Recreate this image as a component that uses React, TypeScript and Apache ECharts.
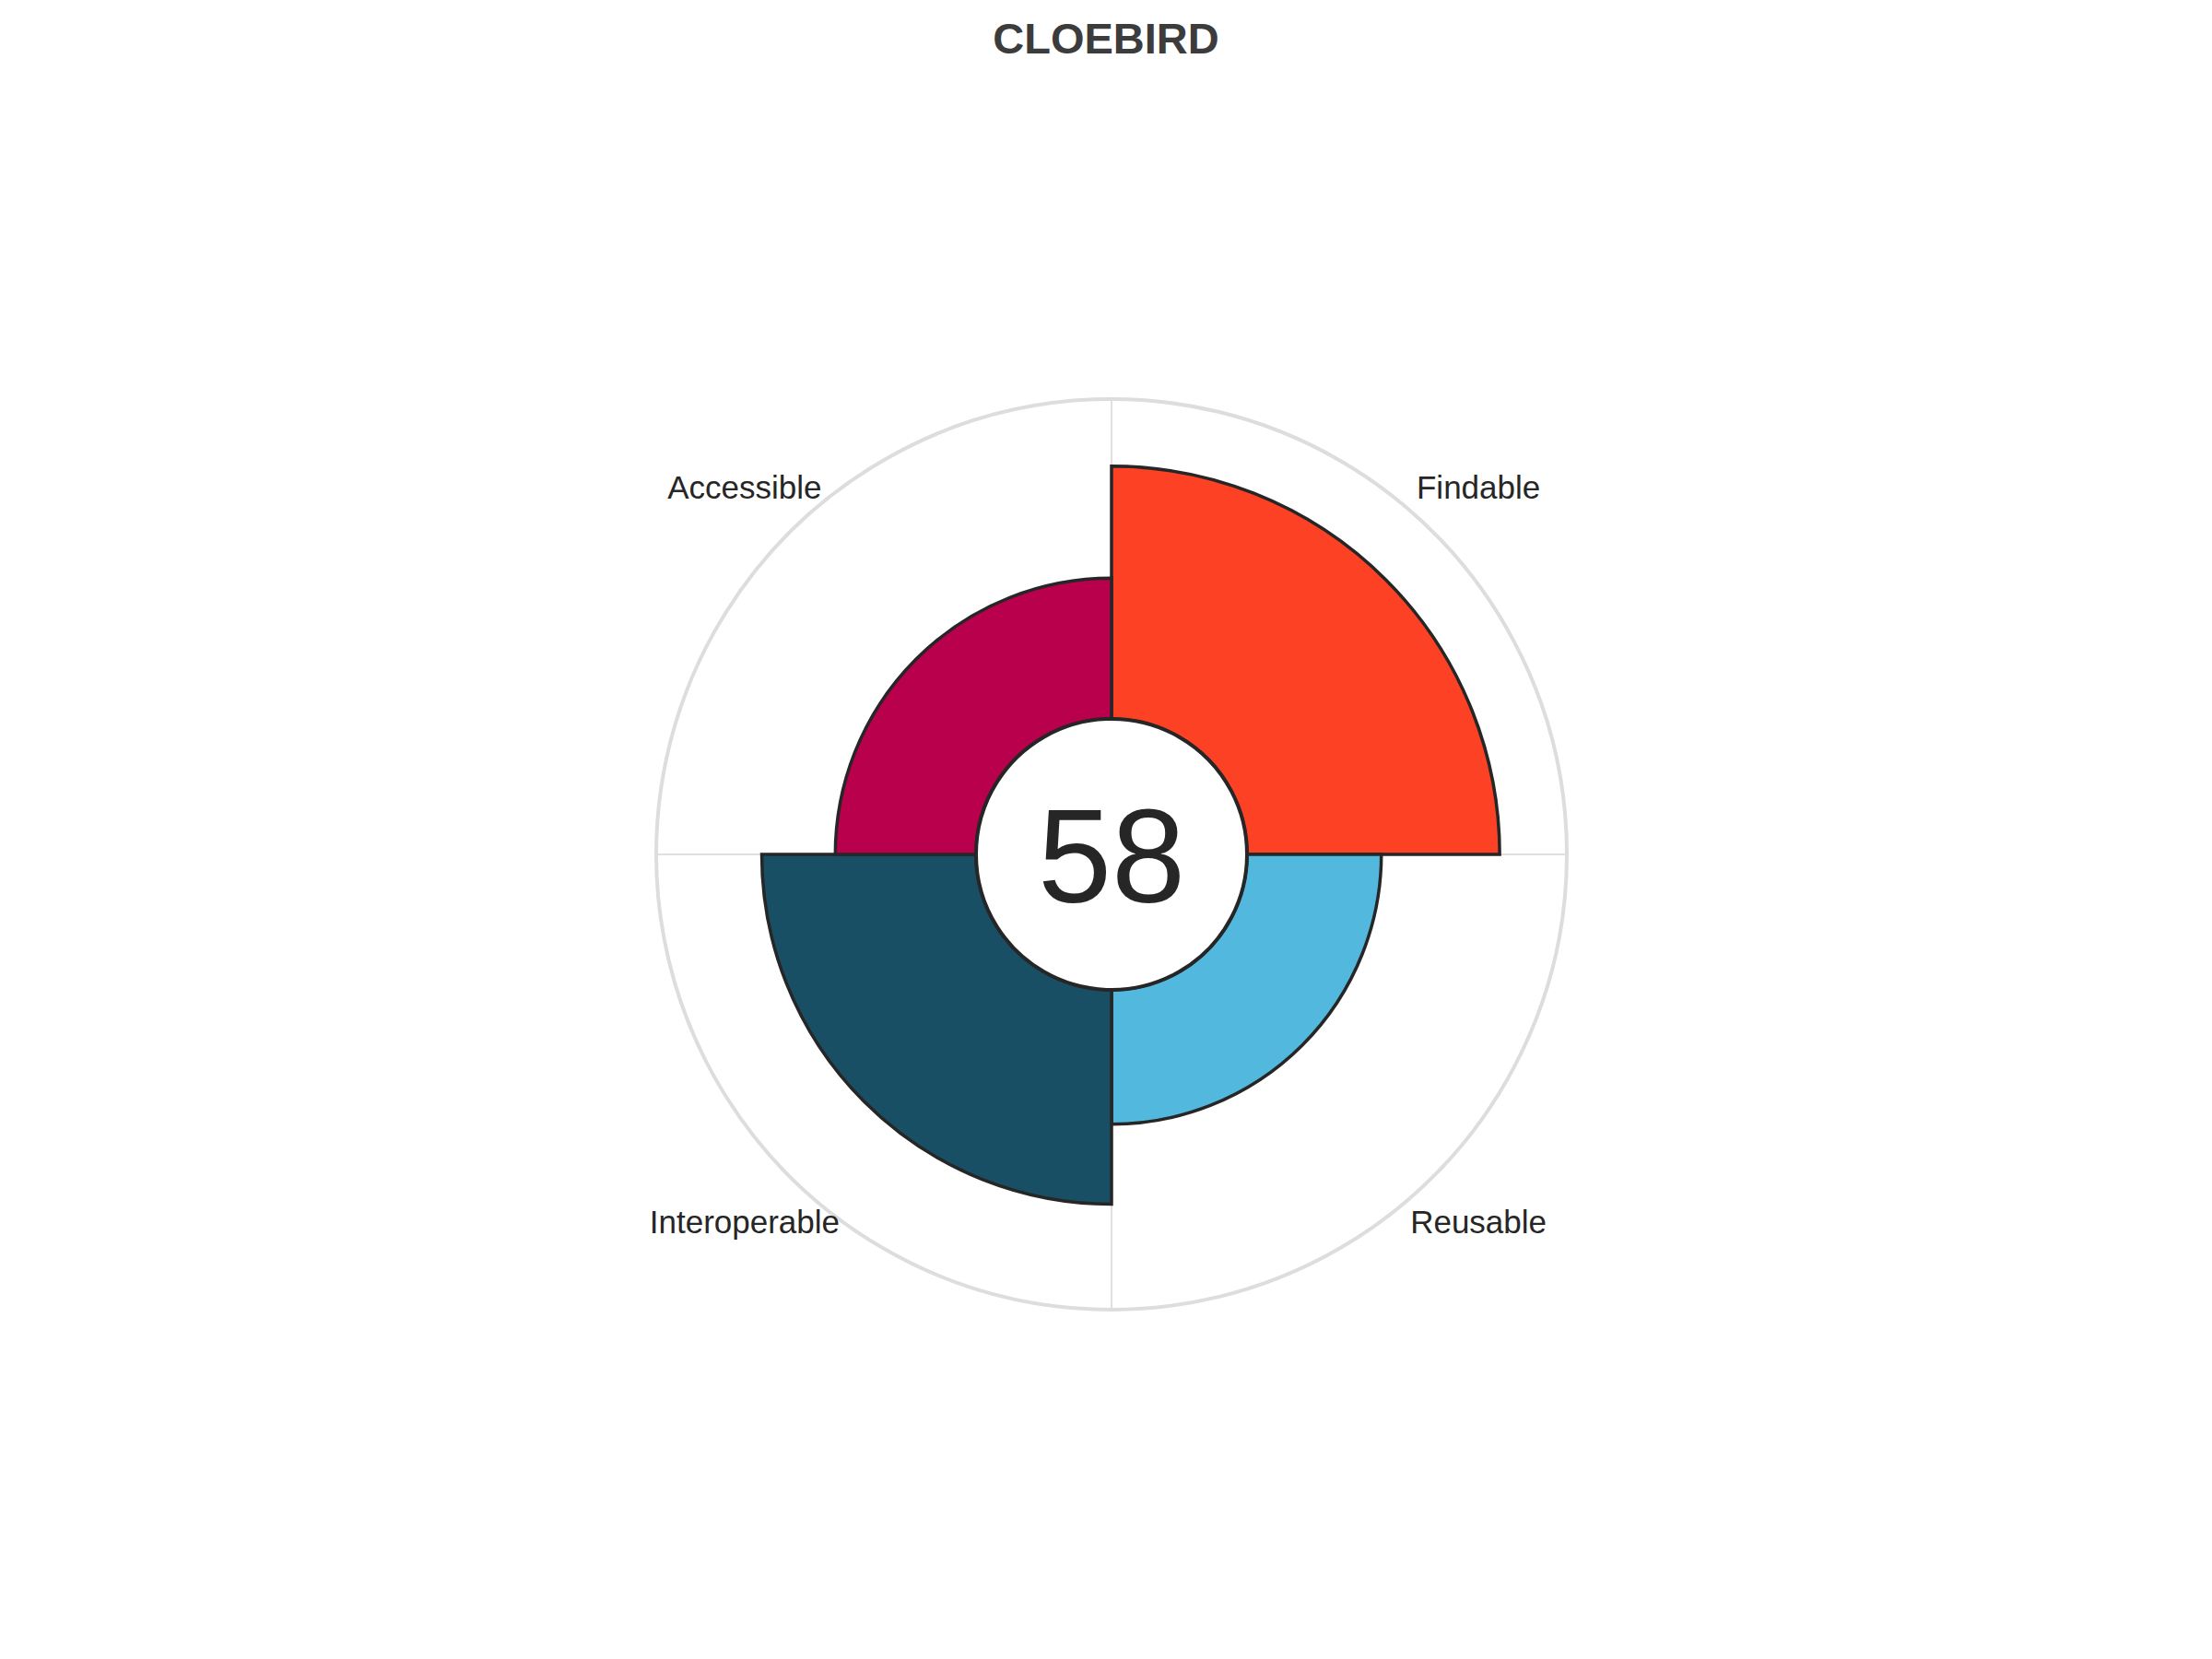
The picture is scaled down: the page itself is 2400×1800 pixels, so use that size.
import React, { useEffect, useRef } from "react";
import * as echarts from "echarts";

const title = "CLOEBIRD";
const categories = ["Findable", "Reusable", "Interoperable", "Accessible"];
const values = [79, 42, 67, 44];
const colors = ["#FC4125", "#52B8DE", "#194F64", "#B8004C"];
const radialMax = 100;

export default function App() {
  const ref = useRef<HTMLDivElement>(null);
  useEffect(() => {
    document.body.style.margin = "0";
    const chart = echarts.init(ref.current!, null, { renderer: "svg" });
    const cx = 1206;
    const cy = 927;
    const r0 = 147;
    const r1 = 494;
    const labelR = 563;
    const score = Math.round(values.reduce((a, b) => a + b, 0) / values.length);
    const n = categories.length;
    const labelEls = categories.map((c, i) => {
      const ang = ((90 - (i + 0.5) * (360 / n)) * Math.PI) / 180;
      return {
        type: "text",
        z: 50,
        x: cx + labelR * Math.cos(ang),
        y: cy - labelR * Math.sin(ang),
        style: {
          text: c,
          fill: "#262626",
          font: "35px 'Liberation Sans', Arial, sans-serif",
          align: "center",
          verticalAlign: "middle",
        },
      };
    });
    chart.setOption({
      animation: false,
      backgroundColor: "#ffffff",
      title: {
        text: title,
        left: "center",
        top: 13,
        textStyle: {
          fontSize: 47,
          fontWeight: "bold",
          color: "#3c3c3c",
          fontFamily: "'Liberation Sans', Arial, sans-serif",
        },
      },
      polar: { center: [cx, cy], radius: [r0, r1] },
      angleAxis: {
        type: "category",
        data: categories,
        startAngle: 90,
        clockwise: true,
        boundaryGap: true,
        axisTick: { show: false },
        axisLabel: { show: false },
        axisLine: { show: true, lineStyle: { color: "#DDDDDD", width: 4 } },
        splitLine: { show: true, lineStyle: { color: "#E0E0E0", width: 2 } },
      },
      radiusAxis: {
        type: "value",
        min: 0,
        max: radialMax,
        axisLine: { show: false },
        axisTick: { show: false },
        axisLabel: { show: false },
        splitLine: { show: false },
      },
      series: [
        {
          type: "bar",
          coordinateSystem: "polar",
          barCategoryGap: "0%",
          data: values.map((v, i) => ({
            value: v,
            itemStyle: { color: colors[i], borderColor: "#262626", borderWidth: 3.5 },
          })),
        },
      ],
      graphic: [
        {
          type: "circle",
          z: 100,
          shape: { cx, cy, r: r0 },
          style: { fill: "#ffffff", stroke: "#262626", lineWidth: 4 },
        },
        {
          type: "text",
          z: 101,
          x: cx,
          y: cy + 2,
          style: {
            text: String(score),
            fill: "#262626",
            font: "144px 'Liberation Sans', Arial, sans-serif",
            align: "center",
            verticalAlign: "middle",
          },
        },
        ...labelEls,
      ],
    });
    return () => chart.dispose();
  }, []);
  return (
    <div
      ref={ref}
      style={{ position: "absolute", left: 0, top: 0, width: 2400, height: 1800 }}
    />
  );
}
